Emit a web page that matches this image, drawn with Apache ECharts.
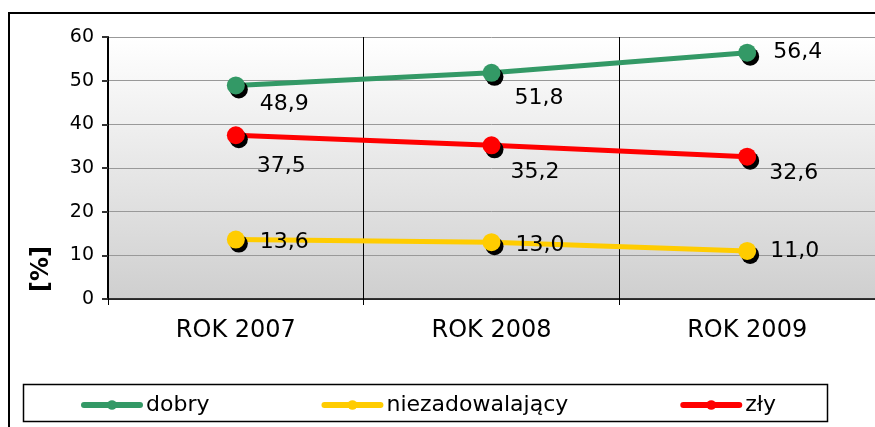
<!DOCTYPE html>
<html>
<head>
<meta charset="utf-8">
<script src="https://cdn.jsdelivr.net/npm/echarts@6/dist/echarts.min.js"></script>
<style>
  html, body { margin: 0; padding: 0; background: #fff; }
  #chart { width: 875px; height: 427px; }
</style>
</head>
<body>
<div id="chart"></div>
<script>
// Years on the category axis
const categories = ['ROK 2007', 'ROK 2008', 'ROK 2009'];

// Share of ratings per year [%]
const dobry = [48.9, 51.8, 56.4];
const niezadowalajacy = [13.6, 13.0, 11.0];
const zly = [37.5, 35.2, 32.6];

// Value axis range
const yMin = 0;
const yMax = 60;
const yStep = 10;

const FONT = 'DejaVu Sans';

// Per-point label nudges (x, y) so labels sit clear of the lines
const labelNudge = {
  dobry: [[15, 19], [14, 25], [17, 0]],
  niezadowalajacy: [[15, 3], [15, 3], [14, 0]],
  zly: [[12, 31], [10, 27], [13, 17]]
};

function fmt(v) {
  return v.toFixed(1).replace('.', ',');
}

function makeSeries(name, values, color, nudges) {
  return {
    name: name,
    type: 'line',
    data: values.map((v, i) => ({
      value: v,
      label: { offset: nudges[i] }
    })),
    symbol: 'circle',
    symbolSize: 18,
    lineStyle: { color: color, width: 5 },
    itemStyle: {
      color: color,
      shadowColor: '#000',
      shadowBlur: 0,
      shadowOffsetX: 3,
      shadowOffsetY: 4
    },
    label: {
      show: true,
      position: 'right',
      distance: 0,
      color: '#000',
      fontFamily: FONT,
      fontSize: 22,
      formatter: p => fmt(p.value)
    },
    emphasis: { disabled: true },
    animation: false
  };
}

const chart = echarts.init(document.getElementById('chart'), null, { renderer: 'canvas' });

chart.setOption({
  backgroundColor: '#fff',
  animation: false,
  grid: {
    left: 108,
    top: 37,
    width: 773,
    bottom: 128,
    show: true,
    borderWidth: 0,
    backgroundColor: new echarts.graphic.LinearGradient(0, 0, 0, 1, [
      { offset: 0, color: '#ffffff' },
      { offset: 1, color: '#cfcfcf' }
    ])
  },
  xAxis: {
    type: 'category',
    data: categories,
    boundaryGap: true,
    axisLine: { show: true, lineStyle: { color: '#000', width: 1.5 } },
    axisTick: { show: true, length: 6, lineStyle: { color: '#000' } },
    splitLine: { show: true, lineStyle: { color: '#000', width: 1 } },
    axisLabel: {
      color: '#000',
      fontFamily: FONT,
      fontSize: 24,
      margin: 20
    }
  },
  yAxis: {
    type: 'value',
    min: yMin,
    max: yMax,
    interval: yStep,
    axisLine: { show: true, lineStyle: { color: '#000', width: 2 } },
    axisTick: { show: true, length: 6, lineStyle: { color: '#333', width: 2 } },
    splitLine: { show: true, lineStyle: { color: '#999', width: 1 } },
    axisLabel: {
      color: '#000',
      fontFamily: FONT,
      fontSize: 19,
      margin: 14
    }
  },
  legend: {
    left: 76,
    top: 389,
    itemGap: 112,
    itemWidth: 56,
    itemHeight: 12,
    textStyle: { fontFamily: FONT, fontSize: 22, color: '#000', padding: [0, 0, 0, 1] },
    lineStyle: { width: 6, cap: 'round' },
    itemStyle: { shadowColor: 'rgba(0,0,0,0)', shadowOffsetX: 0, shadowOffsetY: 0 },
    data: ['dobry', 'niezadowalający', 'zły']
  },
  graphic: [
    {
      type: 'rect',
      silent: true,
      shape: { x: 9, y: 13, width: 900, height: 450 },
      style: { fill: 'none', stroke: '#000', lineWidth: 2 },
      z: -1
    },
    {
      type: 'rect',
      silent: true,
      shape: { x: 23.5, y: 384.5, width: 804, height: 37 },
      style: { fill: 'none', stroke: '#000', lineWidth: 1.5 },
      z: -1
    },
    {
      type: 'text',
      silent: true,
      x: 42,
      y: 269,
      rotation: Math.PI / 2,
      style: {
        text: '[%]',
        fontFamily: FONT,
        fontSize: 24,
        fontWeight: 'bold',
        fill: '#000',
        align: 'center',
        verticalAlign: 'middle'
      }
    }
  ],
  series: [
    makeSeries('dobry', dobry, '#339966', labelNudge.dobry),
    makeSeries('niezadowalający', niezadowalajacy, '#ffcc00', labelNudge.niezadowalajacy),
    makeSeries('zły', zly, '#ff0000', labelNudge.zly)
  ]
});
</script>
</body>
</html>
